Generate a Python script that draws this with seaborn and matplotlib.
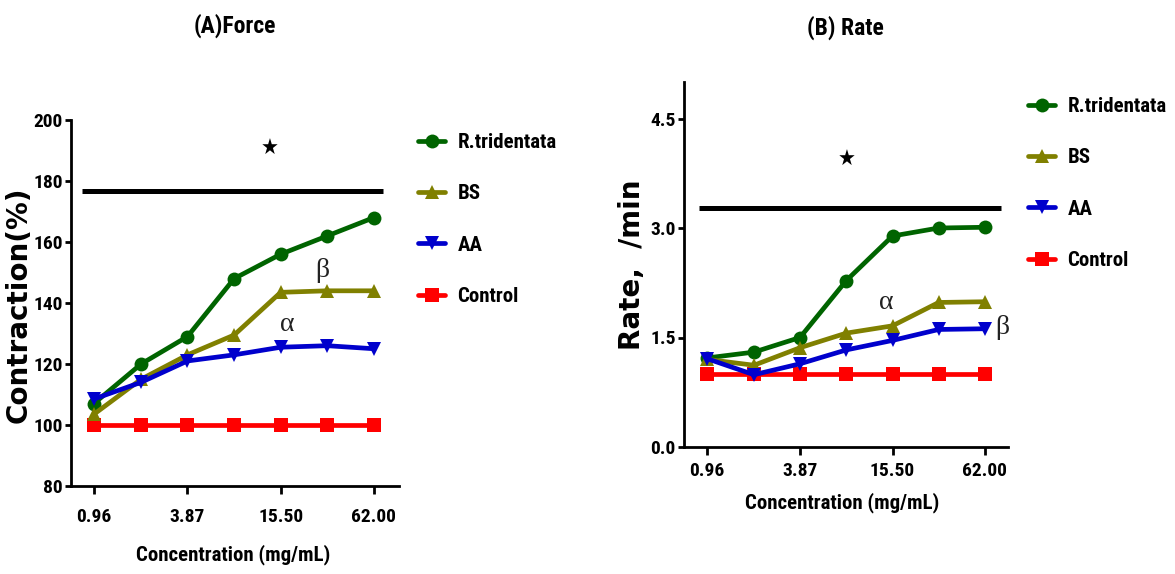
import matplotlib
matplotlib.use("Agg")
import matplotlib.pyplot as plt
from matplotlib import font_manager as fm
from matplotlib.lines import Line2D
from matplotlib.ticker import FixedLocator, NullLocator
import pandas as pd
import seaborn as sns

# --- data -------------------------------------------------------------
concentrations = [0.96, 1.94, 3.87, 7.75, 15.50, 31.00, 62.00]
tick_concs = [0.96, 3.87, 15.50, 62.00]
tick_labels = ["0.96", "3.87", "15.50", "62.00"]
series_names = ["R.tridentata", "BS", "AA", "Control"]

force_rtridentata = [107, 120, 129, 148, 156, 162, 168]
force_bs = [103.5, 115, 123, 129.5, 143.5, 144, 144]
force_aa = [108.5, 114, 121, 123, 125.5, 126, 125]
force_control = [100, 100, 100, 100, 100, 100, 100]

rate_rtridentata = [1.22, 1.30, 1.50, 2.28, 2.89, 3.00, 3.01]
rate_bs = [1.20, 1.12, 1.36, 1.56, 1.66, 1.98, 1.99]
rate_aa = [1.21, 0.99, 1.14, 1.33, 1.46, 1.61, 1.62]
rate_control = [1.0, 1.0, 1.0, 1.0, 1.0, 1.0, 1.0]

force_sig_level = 176.7
rate_sig_level = 3.27

colors = {"R.tridentata": "#006400", "BS": "#808000", "AA": "#0000CC", "Control": "#FF0000"}
markers = {"R.tridentata": "o", "BS": "^", "AA": "v", "Control": "s"}
draw_order = ["Control", "R.tridentata", "BS", "AA"]


def long_frame(values):
    rows = []
    for name, ys in zip(series_names, values):
        for c, y in zip(concentrations, ys):
            rows.append({"conc": c, "value": y, "series": name})
    return pd.DataFrame(rows)


force_df = long_frame([force_rtridentata, force_bs, force_aa, force_control])
rate_df = long_frame([rate_rtridentata, rate_bs, rate_aa, rate_control])

# --- fonts: prefer a condensed bold sans for labels ---------------------
sns.set_style("ticks")
available = {f.name for f in fm.fontManager.ttflist}
condensed_names = [n for n in ("Liberation Sans Narrow", "Roboto Condensed",
                               "Open Sans Condensed", "DejaVu Sans Condensed")
                   if n in available]
has_cond_dejavu = any(f.name == "DejaVu Sans" and f.stretch in ("condensed", 300)
                      for f in fm.fontManager.ttflist)
narrow = condensed_names + ["DejaVu Sans"]
plt.rcParams["font.family"] = narrow
plt.rcParams["font.weight"] = "bold"
plt.rcParams["font.stretch"] = "condensed"
plt.rcParams["axes.linewidth"] = 2.0
for key in ("text.color", "axes.labelcolor", "xtick.color", "ytick.color", "axes.edgecolor"):
    plt.rcParams[key] = "black"
base = 15 if condensed_names or has_cond_dejavu else 13

fig = plt.figure(figsize=(11.75, 5.74), dpi=100)
ax_a = fig.add_axes([71 / 1175, 1 - 486 / 574, 328 / 1175, 366 / 574])
ax_b = fig.add_axes([684 / 1175, 1 - 447 / 574, 324 / 1175, 365 / 574])


def draw_panel(ax, df):
    sns.lineplot(data=df, x="conc", y="value", hue="series", style="series",
                 hue_order=draw_order, style_order=draw_order,
                 palette=colors, markers=markers, dashes=False,
                 linewidth=3.4, markersize=10, markeredgewidth=0,
                 legend=False, ax=ax)
    ax.set_xscale("log", base=2)
    ax.xaxis.set_major_locator(FixedLocator(tick_concs))
    ax.set_xticklabels(tick_labels)
    ax.xaxis.set_minor_locator(NullLocator())
    sns.despine(ax=ax)
    ax.tick_params(axis="x", length=6, width=2, labelsize=base - 1)
    ax.tick_params(axis="y", length=4, width=2, labelsize=base - 1, pad=2)


draw_panel(ax_a, force_df)
draw_panel(ax_b, rate_df)

# panel A axes
ax_a.set_xlim(0.96 * 2 ** -0.49, 62 * 2 ** 0.54)
ax_a.set_ylim(80, 200)
ax_a.set_yticks([80, 100, 120, 140, 160, 180, 200])
ax_a.tick_params(axis="x", pad=10)
ax_a.set_xlabel("Concentration (mg/mL)", fontsize=base, fontweight="bold")
ax_a.xaxis.set_label_coords(0.494, -0.16)
ax_a.set_ylabel("Contraction(%)", fontsize=20, fontweight="bold",
                family="DejaVu Sans", fontstretch="normal")
ax_a.yaxis.set_label_coords(-0.116, 0.495)

# panel B axes
ax_b.set_xlim(0.96 * 2 ** -0.50, 62 * 2 ** 0.50)
ax_b.set_ylim(0, 5.0)
ax_b.set_yticks([0.0, 1.5, 3.0, 4.5])
ax_b.set_yticklabels(["0.0", "1.5", "3.0", "4.5"])
ax_b.tick_params(axis="x", pad=5)
ax_b.set_xlabel("Concentration (mg/mL)", fontsize=base, fontweight="bold")
ax_b.xaxis.set_label_coords(0.489, -0.123)
ax_b.set_ylabel("Rate,  /min", fontsize=20, fontweight="bold",
                family="DejaVu Sans", fontstretch="normal")
ax_b.yaxis.set_label_coords(-0.117, 0.499)

for ax in (ax_a, ax_b):
    for lab in ax.get_xticklabels() + ax.get_yticklabels():
        lab.set_fontweight("bold")

# panel titles
fig.text(235 / 1175, 1 - 26 / 574, "(A)Force", ha="center", va="center",
         fontsize=base + 2, fontweight="bold")
fig.text(845 / 1175, 1 - 28 / 574, "(B) Rate", ha="center", va="center",
         fontsize=base + 2, fontweight="bold")

# significance bars and markers
ax_a.hlines(force_sig_level, 0.81, 71, color="black", linewidth=3.6)
ax_b.hlines(rate_sig_level, 0.852, 79.3, color="black", linewidth=3.6)
ax_a.text(13.1, 190.5, "★", ha="center", va="center", fontsize=16, family="DejaVu Sans")
ax_b.text(7.79, 3.93, "★", ha="center", va="center", fontsize=16, family="DejaVu Sans")

greek = dict(fontsize=20, fontweight="normal", family=["Liberation Serif", "DejaVu Serif"],
             fontstretch="normal", ha="center", va="center", color="#222222")
ax_a.text(28.6, 150.8, "β", **greek)
ax_a.text(17.2, 132.8, "α", **greek)
ax_b.text(14.2, 1.98, "α", **greek)
ax_b.text(80.4, 1.64, "β", **greek)

# legends
handles = [Line2D([], [], color=colors[n], marker=markers[n], linewidth=3.4,
                  markersize=10, markeredgewidth=0) for n in series_names]
leg_kw = dict(frameon=False, loc="upper left", borderpad=0, borderaxespad=0,
              handlelength=1.3, handletextpad=0.6, labelspacing=1.55,
              prop={"family": narrow, "weight": "bold", "size": base, "stretch": "condensed"},
              bbox_transform=fig.transFigure)
ax_a.legend(handles, series_names, bbox_to_anchor=(418 / 1175, 1 - 133 / 574), **leg_kw)
ax_b.legend(handles, series_names, bbox_to_anchor=(1028 / 1175, 1 - 97 / 574), **leg_kw)

fig.savefig("out.png", dpi=100)
